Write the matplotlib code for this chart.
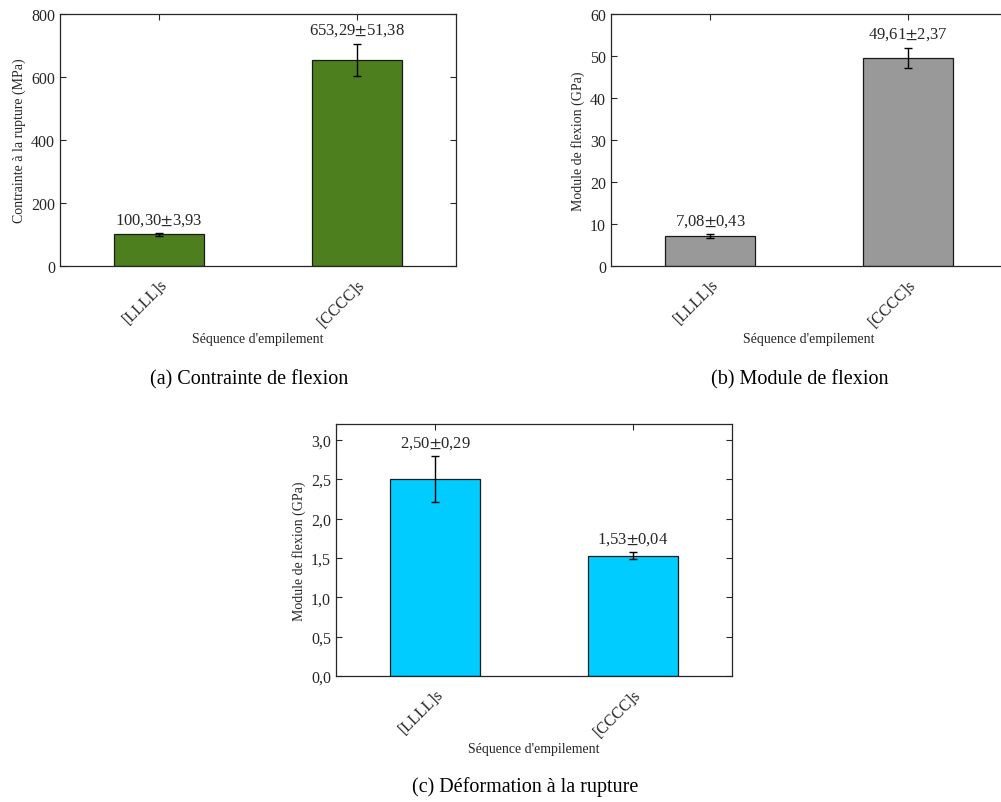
import numpy as np
import matplotlib
matplotlib.use("Agg")
import matplotlib.pyplot as plt
from matplotlib.ticker import FuncFormatter

plt.rcParams["font.family"] = ["Liberation Serif", "DejaVu Serif"]
plt.rcParams["mathtext.fontset"] = "stix"

CATS = ["[LLLL]s", "[CCCC]s"]
STRESS = [100.30, 653.29]
STRESS_ERR = [3.93, 51.38]
MODULUS = [7.08, 49.61]
MODULUS_ERR = [0.43, 2.37]
STRAIN = [2.50, 1.53]
STRAIN_ERR = [0.29, 0.04]

INK = "#262626"


def comma(v, nd):
    return f"{v:.{nd}f}".replace(".", ",")


def panel(fig, rect, vals, errs, color, ylim, yticks, ylabel, nd_tick, caption, cap_xy):
    ax = fig.add_axes(rect)
    x = np.arange(1, len(vals) + 1)
    ax.bar(x, vals, width=0.45, color=color, edgecolor="#1a1a1a", linewidth=0.9, zorder=2)
    ax.errorbar(x, vals, yerr=errs, fmt="none", ecolor="black", elinewidth=1.0,
                capsize=3.2, capthick=1.0, zorder=3)
    for xi, v, e in zip(x, vals, errs):
        ax.annotate(f"{comma(v, 2)}$\\pm${comma(e, 2)}", (xi, v + e), xytext=(0, 4),
                    textcoords="offset points", ha="center", va="bottom",
                    fontsize=12, color=INK)
    ax.set_xlim(0.5, len(vals) + 0.5)
    ax.set_ylim(*ylim)
    ax.set_yticks(yticks)
    ax.yaxis.set_major_formatter(FuncFormatter(lambda v, p: comma(v, nd_tick)))
    ax.set_xticks(x)
    ax.set_xticklabels(CATS, rotation=45, ha="right", rotation_mode="anchor")
    ax.tick_params(direction="in", top=True, right=True, length=4, width=0.8,
                   labelsize=11.5, colors=INK, labelcolor=INK)
    ax.tick_params(axis="x", pad=7)
    for s in ax.spines.values():
        s.set_color(INK)
        s.set_linewidth(0.9)
    ax.set_ylabel(ylabel, fontsize=10, color=INK, labelpad=4)
    ax.set_xlabel("S\u00e9quence d'empilement", fontsize=10, color=INK, labelpad=2)
    fig.text(cap_xy[0], cap_xy[1], caption, ha="center", va="center", fontsize=14.5,
             color="black")
    return ax


fig = plt.figure(figsize=(10.01, 8.03), dpi=100)
W, H = 1001, 803
pw, ph = 396 / W, 252 / H

panel(fig, [60 / W, 1 - 267 / H, pw, ph], STRESS, STRESS_ERR, "#4d7f1e",
      (0, 800), [0, 200, 400, 600, 800], "Contrainte \u00e0 la rupture (MPa)", 0,
      "(a) Contrainte de flexion", (249 / W, 1 - 380 / H))
panel(fig, [611 / W, 1 - 267 / H, pw, ph], MODULUS, MODULUS_ERR, "#999999",
      (0, 60), [0, 10, 20, 30, 40, 50, 60], "Module de flexion (GPa)", 0,
      "(b) Module de flexion", (800 / W, 1 - 380 / H))
panel(fig, [336 / W, 1 - 677 / H, pw, ph], STRAIN, STRAIN_ERR, "#00ccff",
      (0, 3.2), [0, 0.5, 1.0, 1.5, 2.0, 2.5, 3.0], "Module de flexion (GPa)", 1,
      "(c) D\u00e9formation \u00e0 la rupture", (525 / W, 1 - 787 / H))

fig.savefig("out.png", dpi=100)
